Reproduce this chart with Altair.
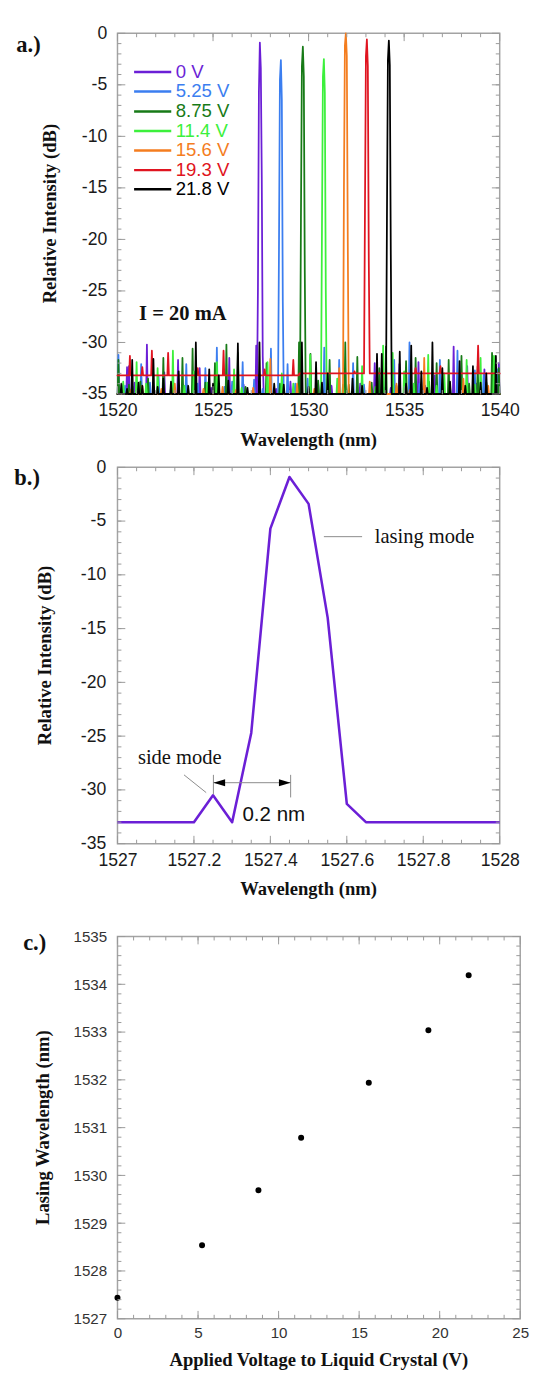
import altair as alt
import pandas as pd

SANS = "Liberation Sans"
SERIF = "Liberation Serif"
FRAME = "#a3a3a3"
TICK = "#9a9a9a"

# ---------------- panel a data ----------------
volt_labels = ["0 V", "5.25 V", "8.75 V", "11.4 V", "15.6 V", "19.3 V", "21.8 V"]
volt_colors = ["#6b1fd6", "#3b7ef0", "#177a17", "#3cf03c", "#f47d1f", "#e01420", "#000000"]

peak_wl = [
    [1527.35, 1527.40, 1527.45, 1527.50, 1527.55, 1527.60],
    [1528.45, 1528.50, 1528.55, 1528.60, 1528.65],
    [1529.60, 1529.65, 1529.70, 1529.75, 1529.80],
    [1530.70, 1530.75, 1530.80, 1530.85, 1530.90],
    [1531.85, 1531.90, 1531.95, 1532.00, 1532.05],
    [1532.95, 1533.00, 1533.05, 1533.10, 1533.15],
    [1534.10, 1534.15, 1534.20, 1534.25, 1534.30],
]
peak_db = [
    [-24.7, -5.7, -0.9, -3.4, -14.0, -31.3],
    [-21.0, -4.5, -2.6, -6.5, -26.0],
    [-18.0, -3.2, -1.3, -4.2, -23.0],
    [-19.0, -4.2, -2.5, -5.8, -25.0],
    [-15.0, -1.2, 0.0, -2.2, -20.0],
    [-17.0, -2.2, -0.6, -3.2, -22.0],
    [-18.0, -2.6, -0.7, -3.1, -21.0],
]

spike_wl = [
    [1520.50, 1520.60, 1520.90, 1521.54, 1521.90, 1522.45, 1523.17, 1523.60, 1524.30, 1524.90,
     1525.85, 1526.60, 1527.26, 1528.30, 1529.05, 1530.50, 1531.20, 1532.70, 1533.46, 1534.30,
     1534.75, 1535.75, 1536.10, 1536.60, 1537.59, 1538.30, 1538.80, 1539.20, 1539.95],
    [1520.05, 1520.40, 1521.24, 1521.70, 1522.15, 1522.80, 1523.60, 1524.20, 1524.60, 1525.20,
     1525.60, 1526.00, 1526.55, 1527.15, 1527.60, 1528.03, 1528.90, 1529.30, 1529.95, 1530.82,
     1531.10, 1531.60, 1532.33, 1532.90, 1533.90, 1534.00, 1534.48, 1535.28, 1535.80, 1536.87,
     1537.40, 1537.79, 1538.30, 1538.70, 1539.16, 1539.90],
    [1520.05, 1520.60, 1521.20, 1521.60, 1522.40, 1522.90, 1523.40, 1523.93, 1524.60, 1525.10,
     1525.70, 1526.30, 1526.70, 1527.80, 1528.50, 1529.50, 1530.10, 1530.50, 1531.10, 1531.92,
     1532.10, 1532.55, 1533.30, 1533.70, 1534.05, 1534.60, 1535.10, 1535.60, 1536.30, 1536.70,
     1537.33, 1538.00, 1538.40, 1538.85, 1539.30, 1539.60, 1539.95],
    [1520.30, 1520.80, 1521.00, 1521.50, 1522.10, 1522.90, 1523.50, 1524.00, 1524.70, 1525.20,
     1526.10, 1526.50, 1527.85, 1528.60, 1529.20, 1530.08, 1531.50, 1531.80, 1532.80, 1533.50,
     1533.90, 1534.40, 1535.00, 1535.50, 1536.26, 1536.70, 1537.10, 1538.27, 1538.70, 1539.00,
     1539.70],
    [1520.70, 1521.30, 1522.30, 1523.00, 1524.50, 1525.50, 1526.20, 1527.10, 1528.00, 1529.40,
     1530.30, 1531.60, 1533.20, 1534.60, 1535.30, 1536.05, 1537.00, 1538.10, 1539.40],
    [1520.65, 1521.30, 1521.80, 1522.65, 1524.20, 1525.55, 1527.70, 1529.20, 1532.40, 1535.60,
     1536.90, 1538.87],
    [1520.20, 1520.50, 1520.77, 1521.10, 1521.30, 1521.88, 1522.10, 1522.40, 1522.80, 1523.20,
     1523.70, 1524.10, 1524.80, 1525.00, 1525.30, 1525.80, 1526.30, 1526.80, 1527.43, 1528.20,
     1528.70, 1529.65, 1530.00, 1530.39, 1530.70, 1531.00, 1532.30, 1532.80, 1533.58, 1533.83,
     1534.77, 1535.10, 1535.37, 1535.90, 1536.20, 1536.48, 1537.00, 1537.40, 1537.90, 1538.20,
     1538.60, 1539.00, 1539.30, 1539.80],
]
spike_db = [
    [-32.4, -32.3, -33.9, -30.2, -34.3, -32.9, -31.7, -34.0, -32.5, -34.4,
     -31.5, -34.1, -30.3, -34.5, -33.8, -34.0, -34.2, -34.0, -32.0, -34.4,
     -32.1, -31.9, -34.2, -33.2, -30.4, -32.3, -34.0, -32.6, -32.0],
    [-31.2, -34.2, -32.1, -33.9, -33.3, -34.4, -32.1, -34.0, -32.5, -30.5,
     -34.3, -33.8, -31.9, -33.6, -34.5, -30.6, -32.1, -34.0, -33.5, -30.5,
     -34.3, -31.7, -32.0, -34.1, -33.3, -34.4, -31.7, -30.0, -34.0, -31.7,
     -34.3, -30.8, -34.1, -32.7, -33.1, -32.6],
    [-31.7, -34.1, -33.8, -33.5, -31.5, -34.2, -31.5, -30.6, -33.9, -32.0,
     -30.2, -31.0, -34.3, -32.0, -34.0, -30.0, -31.1, -33.7, -31.7, -30.0,
     -34.1, -31.4, -33.9, -32.5, -30.4, -34.2, -31.8, -31.5, -33.8, -32.0,
     -31.7, -31.3, -34.0, -32.3, -33.9, -31.0, -32.5],
    [-33.8, -34.3, -31.9, -34.0, -32.5, -30.8, -34.2, -32.8, -33.9, -31.9,
     -32.6, -34.4, -31.9, -33.0, -34.0, -31.2, -33.5, -34.1, -32.3, -34.3,
     -30.3, -31.0, -32.8, -34.0, -31.2, -34.2, -33.0, -31.7, -34.1, -31.5,
     -31.3],
    [-34.6, -34.2, -34.5, -34.0, -34.5, -34.3, -34.6, -34.4, -31.6, -34.0,
     -34.5, -32.5, -33.8, -34.0, -34.6, -31.5, -34.5, -33.5, -34.2],
    [-31.3, -32.4, -30.8, -31.0, -32.5, -30.8, -32.6, -31.7, -32.8, -32.5,
     -32.3, -30.3],
    [-34.0, -34.5, -31.7, -33.9, -34.2, -31.6, -34.3, -33.5, -33.8, -32.8,
     -34.2, -30.0, -32.6, -34.0, -33.2, -33.7, -30.1, -34.4, -30.0, -34.0,
     -34.1, -30.0, -34.3, -31.9, -33.9, -33.0, -33.5, -34.2, -31.1, -31.1,
     -30.9, -34.0, -30.3, -32.8, -34.4, -30.0, -32.5, -33.8, -31.8, -34.2,
     -32.3, -33.9, -33.0, -31.3],
]
# noise floor of each trace: (start wavelength, level)
floor_levels = [
    [(1520.0, -35.0)], [(1520.0, -35.0)], [(1520.0, -35.0)], [(1520.0, -35.0)],
    [(1520.0, -35.0)], [(1520.0, -33.2), (1529.5, -33.0)], [(1520.0, -35.0)],
]

a_ticks_x = [1520, 1525, 1530, 1535, 1540]
a_ticks_y = [-35, -30, -25, -20, -15, -10, -5, 0]
legend_rows = [39.5, 59.5, 80, 100, 120, 140, 159.5]
a_note = pd.DataFrame({"wl": [1523.42], "db": [-27.26], "t": ["I = 20 mA"]})

# ---------------- panel b data ----------------
b_wl = [1527.00, 1527.20, 1527.25, 1527.30, 1527.35, 1527.40, 1527.45, 1527.50, 1527.55,
        1527.60, 1527.65, 1528.00]
b_db = [-33.0, -33.0, -30.5, -33.0, -24.7, -5.7, -0.9, -3.4, -14.0, -31.3, -33.0, -33.0]
b_ticks_x = [1527, 1527.2, 1527.4, 1527.6, 1527.8, 1528]
b_ticks_y = [-35, -30, -25, -20, -15, -10, -5, 0]

# ---------------- panel c data ----------------
c_volt = [0, 5.25, 8.75, 11.4, 15.6, 19.3, 21.8]
c_wl = [1527.44, 1528.54, 1529.69, 1530.79, 1531.94, 1533.04, 1534.19]
c_ticks_x = [0, 5, 10, 15, 20, 25]
c_ticks_y = [1527, 1528, 1529, 1530, 1531, 1532, 1533, 1534, 1535]


def floor_at(levels, x):
    lv = levels[0][1]
    for s, v in levels:
        if x >= s:
            lv = v
    return lv


def trace_frame(i):
    lv = floor_levels[i]
    pts = [(1520.0, floor_at(lv, 1520.0)), (1540.0, floor_at(lv, 1540.0))]
    for s, v in lv[1:]:
        pts += [(s - 0.02, floor_at(lv, s - 0.02)), (s + 0.02, v)]
    for x, y in zip(spike_wl[i], spike_db[i]):
        pts += [(x - 0.04, floor_at(lv, x - 0.04)), (x, y), (x + 0.04, floor_at(lv, x + 0.04))]
    pw, pdb = peak_wl[i], peak_db[i]
    pts += [(pw[0] - 0.05, floor_at(lv, pw[0] - 0.05))]
    pts += list(zip(pw, pdb))
    pts += [(pw[-1] + 0.05, floor_at(lv, pw[-1] + 0.05))]
    pts = [(min(max(x, 1520.0), 1540.0), y) for x, y in pts]
    pts.sort(key=lambda p: p[0])
    return pd.DataFrame({"wl": [p[0] for p in pts], "db": [p[1] for p in pts],
                         "k": list(range(len(pts)))})


def frame_ticks(xs, ys, xmin, xmaj, ymin, ymaj, w, h):
    layers = []
    for vals, L in ((xmin, 4), (xmaj, 8)):
        d = pd.DataFrame({"v": vals})
        base = alt.Chart(d).mark_rule(color=TICK, strokeWidth=1)
        layers.append(base.encode(x=alt.X("v:Q", scale=xs), y=alt.value(h), y2=alt.value(h - L)))
        layers.append(base.encode(x=alt.X("v:Q", scale=xs), y=alt.value(0), y2=alt.value(L)))
    for vals, L in ((ymin, 4), (ymaj, 8)):
        d = pd.DataFrame({"v": vals})
        base = alt.Chart(d).mark_rule(color=TICK, strokeWidth=1)
        layers.append(base.encode(y=alt.Y("v:Q", scale=ys), x=alt.value(0), x2=alt.value(L)))
        layers.append(base.encode(y=alt.Y("v:Q", scale=ys), x=alt.value(w - L), x2=alt.value(w)))
    return layers


def axis(values, lsize, lpad, lcolor="#1a1a1a"):
    return alt.Axis(values=values, title=None, labelExpr="'' + datum.value",
                    labelFont=SANS, labelFontSize=lsize, labelColor=lcolor, labelPadding=lpad)


def panel_label(text, dx, dy):
    return alt.Chart(pd.DataFrame({"t": [text]})).mark_text(
        align="left", baseline="middle", font=SERIF, fontWeight="bold", fontSize=23,
        color="#111111").encode(x=alt.value(dx), y=alt.value(dy), text="t:N")


def titles(xt, yt, w, h, xdy, ydx):
    out = []
    out.append(alt.Chart(pd.DataFrame({"t": [xt]})).mark_text(
        align="center", baseline="alphabetic", font=SERIF, fontWeight="bold", fontSize=19,
        color="#111111").encode(x=alt.value(w / 2), y=alt.value(h + xdy), text="t:N"))
    out.append(alt.Chart(pd.DataFrame({"t": [yt]})).mark_text(
        align="center", baseline="alphabetic", font=SERIF, fontWeight="bold", fontSize=19,
        angle=270, color="#111111").encode(x=alt.value(ydx), y=alt.value(h / 2), text="t:N"))
    return out


# ---------------- panel a ----------------
WA, HA = 391, 369
xa = alt.Scale(domain=[1520, 1540], nice=False, zero=False)
ya = alt.Scale(domain=[-35, 0], nice=False, zero=False)
a_layers = []
for i in range(len(volt_labels)):
    df = trace_frame(i)
    a_layers.append(alt.Chart(df).mark_line(color=volt_colors[i], strokeWidth=1.8,
                                            strokeJoin="round", strokeCap="round")
                    .encode(x=alt.X("wl:Q", scale=xa, axis=axis(a_ticks_x, 18, 8)),
                            y=alt.Y("db:Q", scale=ya, axis=axis(a_ticks_y, 18, 11)), order="k:Q"))
a_layers += frame_ticks(xa, ya, list(range(1521, 1540)), a_ticks_x,
                        list(range(-34, 0)), a_ticks_y, WA, HA)
for lab, col, py in zip(volt_labels, volt_colors, legend_rows):
    row = pd.DataFrame({"label": [lab]})
    a_layers.append(alt.Chart(row).mark_rule(strokeWidth=2.5, color=col).encode(
        x=alt.value(17), x2=alt.value(55), y=alt.value(py)))
    a_layers.append(alt.Chart(row).mark_text(align="left", baseline="middle", font=SANS,
                                             fontSize=19, color=col).encode(
        x=alt.value(59.5), y=alt.value(py), text="label:N"))
a_layers.append(alt.Chart(a_note).mark_text(font=SERIF, fontWeight="bold", fontSize=21, color="#111111",
                                            baseline="middle").encode(
    x=alt.X("wl:Q", scale=xa), y=alt.Y("db:Q", scale=ya), text="t:N"))
a_layers += titles("Wavelength (nm)", "Relative Intensity (dB)", WA, HA, 53, -63)
a_layers.append(panel_label("a.)", -103.5, 12))
panel_a = alt.layer(*a_layers).properties(width=WA, height=HA)

# ---------------- panel b ----------------
WB, HB = 391, 385
xb = alt.Scale(domain=[1527, 1528], nice=False, zero=False)
yb = alt.Scale(domain=[-35, 0], nice=False, zero=False)
b_df = pd.DataFrame({"wl": b_wl, "db": b_db})
b_layers = [alt.Chart(b_df).mark_line(color="#6b1fd6", strokeWidth=2.6, strokeJoin="round").encode(
    x=alt.X("wl:Q", scale=xb, axis=axis(b_ticks_x, 18, 8)),
    y=alt.Y("db:Q", scale=yb, axis=axis(b_ticks_y, 18, 12)))]
b_layers += frame_ticks(xb, yb, [1527 + 0.05 * k for k in range(1, 20)], b_ticks_x,
                        list(range(-34, 0)), b_ticks_y, WB, HB)
seg = pd.DataFrame({"x": [1527.54, 1527.174, 1527.251, 1527.453, 1527.251],
                    "x2": [1527.64, 1527.232, 1527.251, 1527.453, 1527.453],
                    "y": [-6.45, -28.6, -28.6, -28.6, -29.33],
                    "y2": [-6.45, -30.25, -30.4, -30.7, -29.33]})
b_layers.append(alt.Chart(seg).mark_rule(color="#8a8a8a", strokeWidth=1).encode(
    x=alt.X("x:Q", scale=xb), x2="x2:Q", y=alt.Y("y:Q", scale=yb), y2="y2:Q"))
heads = pd.DataFrame({"x": [1527.2663, 1527.4377], "y": [-29.33, -29.33]})
b_layers.append(alt.Chart(heads.iloc[[0]]).mark_point(
    shape="M -1 0 L 1 -0.6 L 1 0.6 Z", filled=True, color="#000000", opacity=1, size=144).encode(
    x=alt.X("x:Q", scale=xb), y=alt.Y("y:Q", scale=yb)))
b_layers.append(alt.Chart(heads.iloc[[1]]).mark_point(
    shape="M 1 0 L -1 -0.6 L -1 0.6 Z", filled=True, color="#000000", opacity=1, size=144).encode(
    x=alt.X("x:Q", scale=xb), y=alt.Y("y:Q", scale=yb)))
notes_serif = pd.DataFrame({"x": [1527.673, 1527.163], "y": [-6.45, -27.0],
                            "t": ["lasing mode", "side mode"]})
b_layers.append(alt.Chart(notes_serif.iloc[[0]]).mark_text(
    align="left", baseline="middle", font=SERIF, fontSize=21, color="#111111").encode(
    x=alt.X("x:Q", scale=xb), y=alt.Y("y:Q", scale=yb), text="t:N"))
b_layers.append(alt.Chart(notes_serif.iloc[[1]]).mark_text(
    align="center", baseline="middle", font=SERIF, fontSize=21, color="#111111").encode(
    x=alt.X("x:Q", scale=xb), y=alt.Y("y:Q", scale=yb), text="t:N"))
b_layers.append(alt.Chart(pd.DataFrame({"x": [1527.409], "y": [-32.33], "t": ["0.2 nm"]})).mark_text(
    align="center", baseline="middle", font=SANS, fontSize=21, color="#111111").encode(
    x=alt.X("x:Q", scale=xb), y=alt.Y("y:Q", scale=yb), text="t:N"))
b_layers += titles("Wavelength (nm)", "Relative Intensity (dB)", WB, HB, 53, -68)
b_layers.append(panel_label("b.)", -105.5, 11))
panel_b = alt.layer(*b_layers).properties(width=WB, height=HB)

# ---------------- panel c ----------------
WC, HC = 412, 391
xc = alt.Scale(domain=[0, 25], nice=False, zero=False)
yc = alt.Scale(domain=[1527, 1535], nice=False, zero=False)
c_df = pd.DataFrame({"v": c_volt, "wl": c_wl})
c_layers = [alt.Chart(c_df).mark_circle(size=38, color="#000000", opacity=1).encode(
    x=alt.X("v:Q", scale=xc, axis=axis(c_ticks_x, 15.5, 7.5, "#333333")),
    y=alt.Y("wl:Q", scale=yc, axis=axis(c_ticks_y, 15.5, 11, "#333333")))]
c_layers += frame_ticks(xc, yc, list(range(1, 25)), c_ticks_x,
                        [1527 + 0.2 * k for k in range(1, 40)], c_ticks_y, WC, HC)
c_layers += titles("Applied Voltage to Liquid Crystal (V)", "Lasing Wavelength (nm)", WC, HC, 48.6, -70)
c_layers.append(panel_label("c.)", -96.5, 7))
panel_c = alt.layer(*c_layers).properties(width=WC, height=HC)

chart = alt.vconcat(alt.vconcat(panel_a, panel_b, spacing=7), panel_c, spacing=29).properties(
    padding={"left": 5, "top": 0, "right": 0, "bottom": 2}
).configure_view(stroke=FRAME, strokeWidth=1.5).configure_axis(
    ticks=False, tickSize=0, domain=False, grid=False, labelFlush=False, labelOverlap=False
)

chart.save("out.html", embed_options={"renderer": "svg", "actions": False})
